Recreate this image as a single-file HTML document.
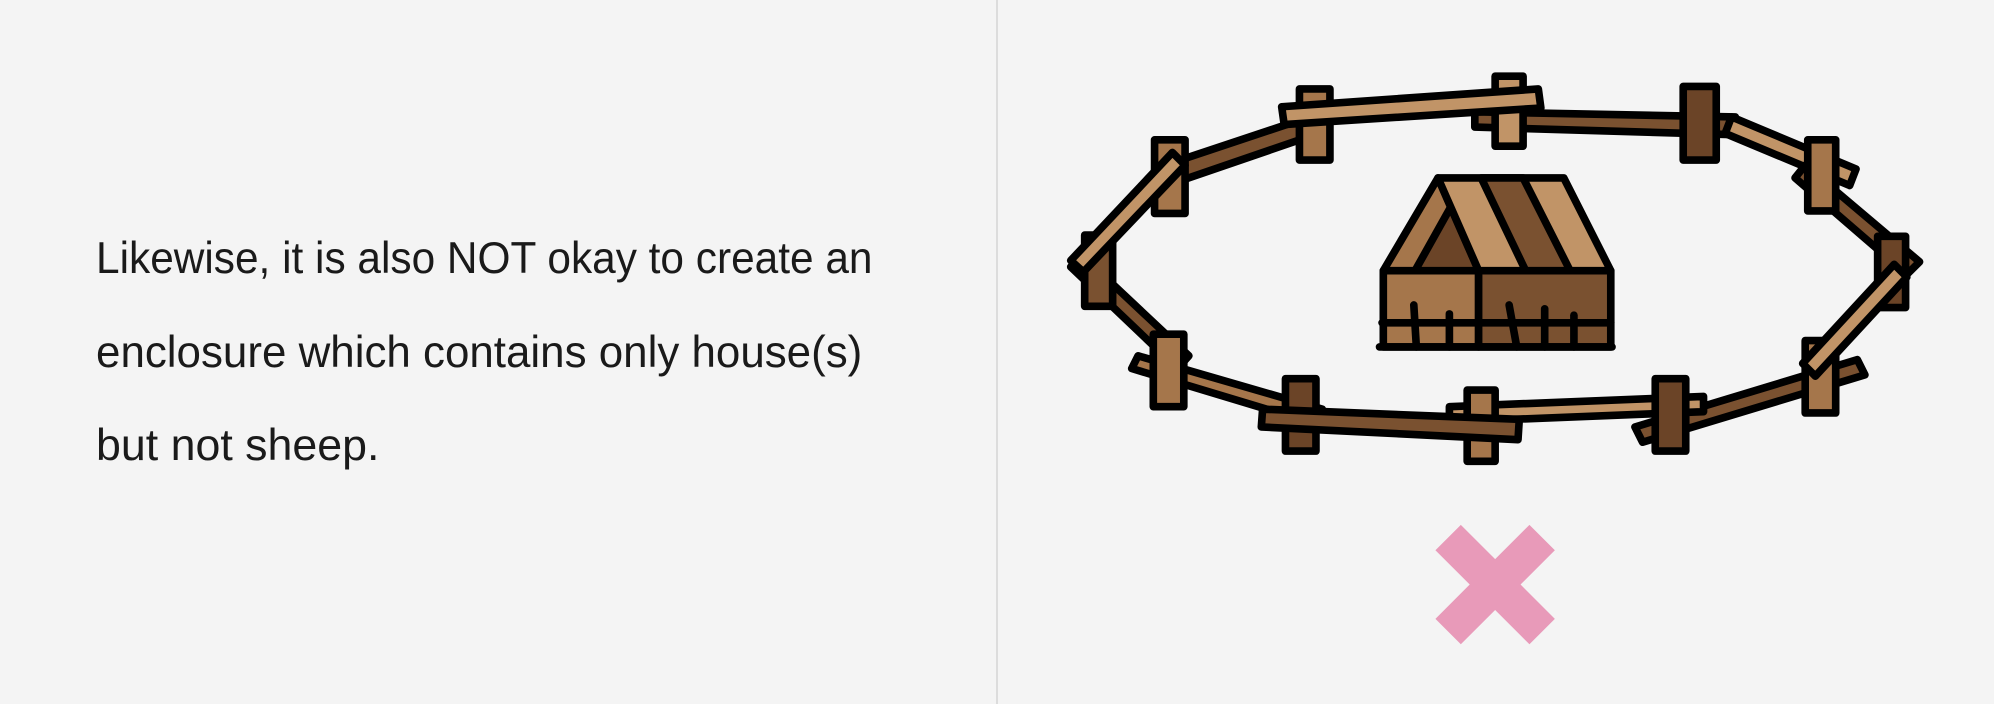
<!DOCTYPE html>
<html><head><meta charset="utf-8"><style>
html,body{margin:0;padding:0;background:#f4f4f4;}
svg{display:block;}
</style></head><body>
<svg width="1994" height="704" viewBox="0 0 1568 554" xmlns="http://www.w3.org/2000/svg">
<rect x="0" y="0" width="1568" height="554" fill="#f4f4f4"/>
<line x1="784" y1="0" x2="784" y2="554" stroke="#cfcfcf" stroke-width="1"/>
<g font-family="'Liberation Sans', sans-serif" font-size="35" fill="#1a1a1a">
<text x="75" y="215" textLength="611" lengthAdjust="spacingAndGlyphs">Likewise, it is also NOT okay to create an</text>
<text x="75" y="289" textLength="603" lengthAdjust="spacingAndGlyphs">enclosure which contains only house(s)</text>
<text x="75" y="362" textLength="223" lengthAdjust="spacingAndGlyphs">but not sheep.</text>
</g>
<g stroke="#000" stroke-width="6" stroke-linejoin="round">
<g>
<path d="M922,128 L1030,92 L1034,106 L926,143 Z" fill="#7a5130"/>
<path d="M1160,88 L1365,92 L1364,106 L1160,100 Z" fill="#7a5130"/>
<path d="M1362,92 L1460,133 L1455,146 L1357,105 Z" fill="#c19467"/>
<path d="M1420,130 L1510,206 L1500,216 L1412,140 Z" fill="#7a5130"/>
<path d="M1467,295 L1292,348 L1286,336 L1461,283 Z" fill="#7a5130"/>
<path d="M1340,312 L1140,320 L1140,332 L1340,324 Z" fill="#c19467"/>
<path d="M895,280 L1040,322 L1036,334 L890,290 Z" fill="#a5764b"/>
<path d="M852,202 L935,280 L926,290 L842,210 Z" fill="#7a5130"/>
</g>
<g fill="#a5764b">
<rect x="1022" y="70" width="24" height="56"/>
<rect x="1176" y="60" width="22" height="55" fill="#c19467"/>
<rect x="1324" y="68" width="26" height="58" fill="#6b4427"/>
<rect x="1422" y="110" width="22" height="56"/>
<rect x="1477" y="186" width="22" height="56" fill="#6b4427"/>
<rect x="1420" y="268" width="24" height="57"/>
<rect x="1302" y="298" width="24" height="57" fill="#6b4427"/>
<rect x="1154" y="307" width="22" height="56"/>
<rect x="1011" y="298" width="24" height="57" fill="#6b4427"/>
<rect x="907" y="263" width="24" height="57"/>
<rect x="853" y="185" width="22" height="56" fill="#7a5130"/>
<rect x="908" y="110" width="24" height="58"/>
</g>
<g>
<path d="M1008,84 L1210,70 L1212,85 L1010,98 Z" fill="#c19467"/>
<path d="M1500,218 L1428,296 L1418,286 L1490,208 Z" fill="#c19467"/>
<path d="M1195,330 L993,322 L992,336 L1194,346 Z" fill="#7a5130"/>
<path d="M842,205 L922,120 L932,130 L852,214 Z" fill="#c19467"/>
</g>
</g>
<g stroke="#000" stroke-width="6" stroke-linejoin="round" stroke-linecap="round">
<rect x="1088" y="213" width="75" height="60" fill="#a5764b"/>
<rect x="1163" y="213" width="104" height="60" fill="#7a5130"/>
<path d="M1088,213 L1131,140 L1163,213 Z" fill="#a5764b"/>
<path d="M1113,213 L1141,163 L1163,213 Z" fill="#6b4427"/>
<path d="M1131,140 L1230,140 L1267,213 L1163,213 Z" fill="#c19467"/>
<path d="M1165,140 L1198,140 L1235,213 L1200,213 Z" fill="#7a5130"/>
<line x1="1087" y1="254" x2="1267" y2="254"/>
<line x1="1085" y1="273" x2="1268" y2="273"/>
<line x1="1112" y1="240" x2="1114" y2="273"/>
<line x1="1140" y1="247" x2="1140" y2="273"/>
<line x1="1187" y1="240" x2="1193" y2="273"/>
<line x1="1215" y1="243" x2="1215" y2="273"/>
<line x1="1238" y1="248" x2="1238" y2="273"/>
</g>
<g fill="#e89ab9">
<path d="M1129,433 L1149,413 L1176,440 L1203,413 L1223,433 L1196,460 L1223,487 L1203,507 L1176,480 L1149,507 L1129,487 L1156,460 Z"/>
</g>
</svg>
</body></html>
